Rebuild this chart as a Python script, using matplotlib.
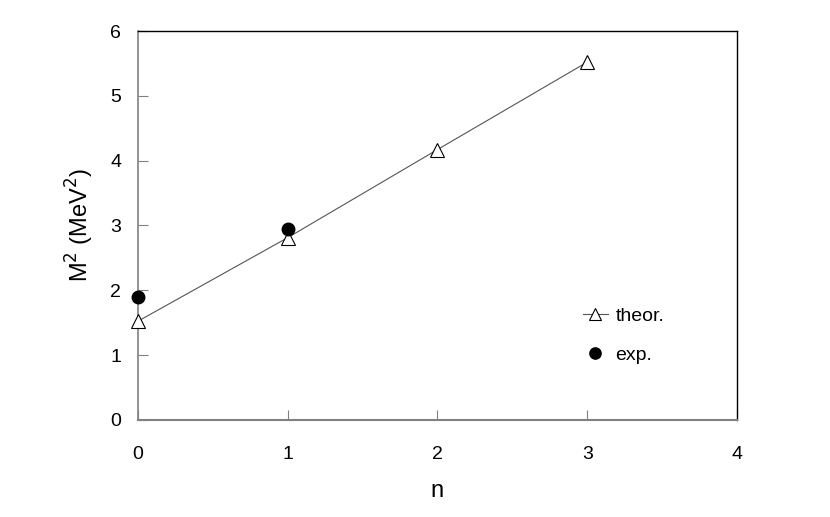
import matplotlib
matplotlib.use("Agg")
import matplotlib.pyplot as plt

n_theor = [0, 1, 2, 3]
m2_theor = [1.52, 2.81, 4.17, 5.52]
n_exp = [0, 1]
m2_exp = [1.89, 2.95]

plt.rcParams['font.family'] = ['Liberation Sans', 'DejaVu Sans']

fig = plt.figure(figsize=(8.3, 5.17), dpi=100)
ax = fig.add_axes([0.166, 0.188, 0.722, 0.752])

ax.plot(n_theor, m2_theor, color='#555555', linewidth=0.8, marker='^',
        markersize=10, markerfacecolor='white', markeredgecolor='black',
        markeredgewidth=0.8, label='theor.', clip_on=False, zorder=3)
ax.plot(n_exp, m2_exp, linestyle='none', marker='o', markersize=9,
        color='black', label='exp.', clip_on=False, zorder=4)

ax.set_xlim(0, 4)
ax.set_ylim(0, 6)
ax.set_xticks([0, 1, 2, 3, 4])
ax.set_yticks([0, 1, 2, 3, 4, 5, 6])

ax.spines['left'].set_color('#808080')
ax.spines['bottom'].set_color('#808080')
ax.spines['left'].set_linewidth(1.2)
ax.spines['bottom'].set_linewidth(1.5)
ax.spines['top'].set_color('black')
ax.spines['right'].set_color('black')
ax.spines['top'].set_linewidth(1.0)
ax.spines['right'].set_linewidth(1.0)

ax.tick_params(axis='both', direction='in', length=7, color='#808080', labelsize=14)
ax.tick_params(axis='x', pad=19)
ax.tick_params(axis='y', pad=12)

ax.set_xlabel('n', fontsize=17, labelpad=12)
ax.set_ylabel('M$^2$ (MeV$^2$)', fontsize=17, labelpad=10)

leg = ax.legend(loc='upper left', bbox_to_anchor=(0.713, 0.334), frameon=False,
                fontsize=14, handlelength=1.3, handletextpad=0.4, labelspacing=1.1,
                markerscale=0.9)

fig.savefig('out.png', dpi=100)
